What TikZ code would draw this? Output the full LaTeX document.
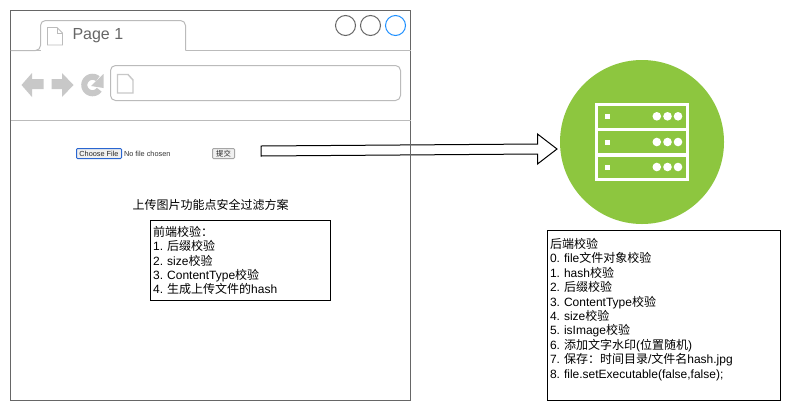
\documentclass[tikz,border=0pt]{standalone}
\usepackage{fontspec}
\setmainfont{Liberation Sans}
\newfontfamily\cjk{Noto Sans CJK SC}
\newcommand{\zh}[1]{{\cjk #1}}
\frenchspacing
\definecolor{wingray}{HTML}{666666}
\definecolor{chrome}{HTML}{BBBBBB}
\definecolor{iconfill}{HTML}{C8C8C8}
\definecolor{srvgreen}{HTML}{8DC63F}
\definecolor{btnblue}{HTML}{2A66D0}
\definecolor{dotblue}{HTML}{1E90FF}
\tikzset{
  x=0.75pt,y=-0.75pt,
  every node/.style={inner sep=0pt,outer sep=0pt},
  px/.style={line width=0.75pt},
  winframe/.style={px,draw=wingray,fill=white,rectangle,minimum width=300pt,minimum height=292.5pt},
  winbtn/.style={px,draw=#1,circle,minimum size=15pt},
  chromeline/.style={px,draw=chrome},
  docicon/.style={draw=chrome},
  navicon/.style={fill=iconfill,draw=none},
  textbox/.style={px,draw=black,fill=white,rectangle,align=left,font=\fontsize{9}{10.8}\selectfont,inner sep=1pt},
  plain/.style={font=\fontsize{9}{10.8}\selectfont},
  tinytext/.style={font=\fontsize{5.5}{6.5}\selectfont,text=black!80},
  formbtn/.style={px,rectangle,rounded corners=0.75pt,font=\fontsize{5.5}{6.5}\selectfont,text=black!85,minimum height=7.5pt},
  rowgreen/.style={fill=srvgreen,draw=none},
  srvwhite/.style={fill=white,draw=none}
}
\begin{document}
\begin{tikzpicture}
\useasboundingbox (0,0) rectangle (791,411);
\fill[white] (0,0) rectangle (791,411);
\coordinate (a1) at (261,146);
\coordinate (a2) at (537.5,144);
\coordinate (a3) at (537.5,134);
\coordinate (a4) at (557,149);
\coordinate (a5) at (537.5,164);
\coordinate (a6) at (537.5,154);
\coordinate (a7) at (261,156);
% window
\node[winframe] (win) at (210.5,205.5) {};
% block arrow
\draw[px,black,fill=white] (a1) -- (a2) -- (a3) -- (a4) -- (a5) -- (a6) -- (a7) -- cycle;
\draw[px,wingray] (win.north east) -- (win.south east);
% tab
\draw[chromeline,rounded corners=3.75pt] (10.5,50.5) -- (40.5,50.5) -- (40.5,20.5) -- (185.5,20.5) -- (185.5,50.5);
\draw[chromeline] (185.5,50.5) -- (410.5,50.5);
\draw[chromeline] (10.5,50.5) -- (40.5,50.5);
\draw[chromeline] (10.5,120.5) -- (410.5,120.5);
\node[anchor=west,text=wingray,font=\fontsize{12}{14}\selectfont] (pagetitle) at (72.5,35.3) {Page 1};
\draw[docicon,line width=0.6pt] (47.5,27.5) -- (57,27.5) -- (62.5,33) -- (62.5,45) -- (47.5,45) -- cycle;
\draw[docicon,line width=0.4pt] (57,27.5) -- (57,33) -- (62.5,33);
% window buttons
\node[winbtn=wingray] (b1) at (345.5,25.5) {};
\node[winbtn=wingray] (b2) at (370.5,25.5) {};
\node[winbtn=dotblue] (b3) at (395.5,25.5) {};
% nav icons
\fill[navicon] (21.5,85) -- (32,73) -- (32,79) -- (43.5,79) -- (43.5,89) -- (32,89) -- (32,97) -- cycle;
\fill[navicon] (73.5,85) -- (62,73) -- (62,79) -- (51.5,79) -- (51.5,89) -- (62,89) -- (62,97) -- cycle;
\draw[iconfill,line width=4.6pt] plot[domain=50:325,samples=40,smooth] ({92.5+8.2*cos(\x)},{85-8.2*sin(\x)});
\fill[navicon] (103.5,74) -- (103.5,88) -- (91,86) -- cycle;
% address bar
\node[chromeline,rectangle,rounded corners=3.75pt,minimum width=217.5pt,minimum height=26.25pt] (addr) at (255.5,83) {};
\draw[docicon,line width=1.1pt,draw=iconfill] (117.5,74.5) -- (128,74.5) -- (133,80) -- (133,93) -- (117.5,93) -- cycle;
% form
\node[formbtn,draw=btnblue,fill=black!6,minimum width=33.75pt] (choose) at (99,153.5) {Choose File};
\node[tinytext,anchor=west] (nofile) at (124,153.6) {No file chosen};
\node[formbtn,draw=black!35,fill=black!6,minimum width=16.5pt] (submit) at (223.5,153.5) {\zh{提交}};
% title
\node[plain] (title) at (210.5,204.5) {\zh{上传图片功能点安全过滤方案}};
% front-end box
\node[textbox,minimum width=135pt,minimum height=60pt,text width=131pt] (front) at (240.5,260.5) {%
\zh{前端校验：}\\
1. \zh{后缀校验}\\
2. size\zh{校验}\\
3. ContentType\zh{校验}\\
4. \zh{生成上传文件的}hash};
% server icon
\node[circle,fill=srvgreen,minimum size=123pt] (server) at (642,142) {};
\fill[srvwhite] (595,103) rectangle (689,181);
\fill[rowgreen] (598,106) rectangle (686,127.5);
\fill[rowgreen] (598,131) rectangle (686,153);
\fill[rowgreen] (598,156.5) rectangle (686,177.5);
\foreach \yy in {116.3,142,167}{
  \fill[srvwhite] (605,\yy-2.5) rectangle (610,\yy+2.5);
  \foreach \xx in {656.8,667.5,678}{
    \fill[srvwhite] (\xx,\yy) circle[radius=4.3];
  }
}
% back-end box
\node[textbox,minimum width=174.75pt,minimum height=127.5pt,text width=171pt] (back) at (664,315.5) {%
\zh{后端校验}\\
0. file\zh{文件对象校验}\\
1. hash\zh{校验}\\
2. \zh{后缀校验}\\
3. ContentType\zh{校验}\\
4. size\zh{校验}\\
5. isImage\zh{校验}\\
6. \zh{添加文字水印}(\zh{位置随机})\\
7. \zh{保存：时间目录}/\zh{文件名}hash.jpg\\
8. file.setExecutable(false,false);\\
\mbox{}};
\end{tikzpicture}
\end{document}
